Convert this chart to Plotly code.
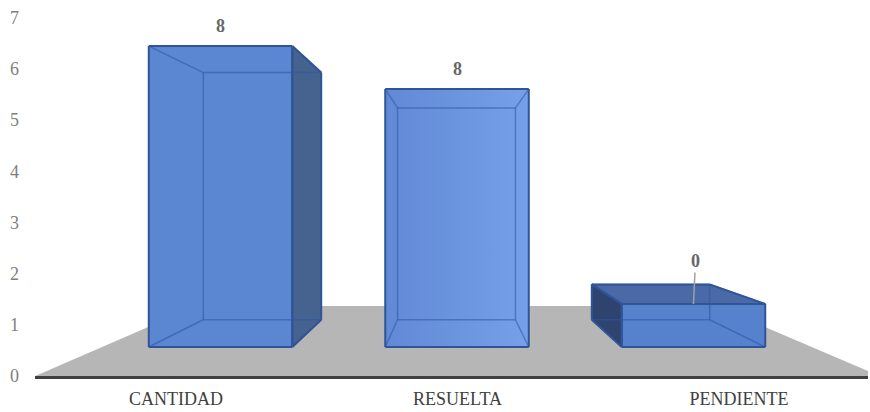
import plotly.graph_objects as go

# ---------------- data ----------------
categories = ["CANTIDAD", "RESUELTA", "PENDIENTE"]
values = [7, 6, 1]              # bar heights
data_labels = ["8", "8", "0"]   # data labels as printed on the chart
y_ticks = [0, 1, 2, 3, 4, 5, 6, 7]

# ---------------- perspective / style parameters ----------------
VX, VY = 0.988, 3.548          # vanishing point (data units)
S_FRONT, S_BACK = 0.84, 0.69   # depth scale of bar front / back planes
S_FLOOR_BACK = 0.615           # depth scale of floor back edge
BAR_W = 0.607                  # bar width in category units
X_RANGE = [-0.501, 2.458]
Y_RANGE = [0, 377 / 51.3]

FRONT_COLORS = ["#5A86D2", "#6A94DF", "#5581CD"]
RIGHT_COLOR = "#46628F"
LEFT_COLOR = "#2E436D"
TOP_COLOR = "#4A69A6"
EDGE_DARK = "#2F5597"
EDGE_INNER = "rgba(45,85,165,0.55)"
FLOOR_COLOR = "#B6B6B6"
LABEL_OFFSETS = [20, 20, 43]   # px above bar top


def proj(x, y, s):
    return (VX + s * (x - VX), VY + s * (y - VY))


fig = go.Figure()


def poly(pts, fill, gradient=None):
    xs = [p[0] for p in pts] + [pts[0][0]]
    ys = [p[1] for p in pts] + [pts[0][1]]
    kw = {}
    if gradient is not None:
        kw["fillgradient"] = gradient
    fig.add_trace(go.Scatter(x=xs, y=ys, mode="lines", fill="toself",
                             fillcolor=fill, line=dict(color=fill, width=0),
                             hoverinfo="skip", showlegend=False, **kw))


def edges(segs, color, width):
    xs, ys = [], []
    for a, b in segs:
        xs += [a[0], b[0], None]
        ys += [a[1], b[1], None]
    fig.add_trace(go.Scatter(x=xs, y=ys, mode="lines",
                             line=dict(color=color, width=width),
                             hoverinfo="skip", showlegend=False))


# floor
floor = [proj(-0.5, 0, 1), proj(2.5, 0, 1),
         proj(2.5, 0, S_FLOOR_BACK), proj(-0.5, 0, S_FLOOR_BACK)]
poly(floor, FLOOR_COLOR)

# bars
for i, (cat, v) in enumerate(zip(categories, values)):
    xl, xr = i - BAR_W / 2, i + BAR_W / 2
    P = {}
    for nx, xx in (("l", xl), ("r", xr)):
        for ny, yy in (("b", 0), ("t", v)):
            for nz, ss in (("f", S_FRONT), ("k", S_BACK)):
                P[nx + ny + nz] = proj(xx, yy, ss)
    front = [P["lbf"], P["rbf"], P["rtf"], P["ltf"]]
    grad = None
    if i == 1:
        grad = dict(type="horizontal",
                    colorscale=[[0, "#6189D6"], [1, "#76A0E8"]])
    poly(front, FRONT_COLORS[i], grad)
    outline = [(front[k], front[(k + 1) % 4]) for k in range(4)]
    if VX > xr:   # right face visible
        face = [P["rbf"], P["rbk"], P["rtk"], P["rtf"]]
        poly(face, RIGHT_COLOR)
        outline += [(face[k], face[(k + 1) % 4]) for k in range(4)]
    if VX < xl:   # left face visible
        face = [P["lbf"], P["lbk"], P["ltk"], P["ltf"]]
        poly(face, LEFT_COLOR)
        outline += [(face[k], face[(k + 1) % 4]) for k in range(4)]
    if VY > v:    # top face visible
        face = [P["ltf"], P["rtf"], P["rtk"], P["ltk"]]
        poly(face, TOP_COLOR)
        outline += [(face[k], face[(k + 1) % 4]) for k in range(4)]
    inner = [(P["lbk"], P["rbk"]), (P["rbk"], P["rtk"]), (P["rtk"], P["ltk"]),
             (P["ltk"], P["lbk"]), (P["lbf"], P["lbk"]), (P["rbf"], P["rbk"]),
             (P["rtf"], P["rtk"]), (P["ltf"], P["ltk"])]
    edges(inner, EDGE_INNER, 1.5)
    edges(outline, EDGE_DARK, 2)

    # data label
    lx, ly = proj(i, v, S_FRONT)
    off = LABEL_OFFSETS[i]
    if off > 30:
        fig.add_annotation(x=lx, y=ly, text=f"<b>{data_labels[i]}</b>",
                           showarrow=True, arrowhead=0, arrowwidth=1.5,
                           arrowcolor="#A0A0A0", ax=2, ay=-off,
                           font=dict(family="Liberation Serif", size=18, color="#666666"))
    else:
        fig.add_annotation(x=lx, y=ly, text=f"<b>{data_labels[i]}</b>",
                           showarrow=False, yshift=off,
                           font=dict(family="Liberation Serif", size=18, color="#666666"))

fig.update_layout(
    width=870, height=412,
    margin=dict(l=35, r=2, t=0, b=36),
    paper_bgcolor="white", plot_bgcolor="white",
    showlegend=False,
    font=dict(family="Liberation Serif"),
)
fig.update_xaxes(range=X_RANGE, tickmode="array", tickvals=list(range(len(categories))),
                 ticktext=categories, showgrid=False, zeroline=False,
                 showline=True, linecolor="#404040", linewidth=3,
                 ticks="", ticklabelstandoff=4, automargin=False,
                 tickfont=dict(family="Liberation Serif", size=18, color="#404040"))
fig.update_yaxes(range=Y_RANGE, tickmode="array", tickvals=y_ticks,
                 showgrid=False, zeroline=False, showline=False, ticks="",
                 ticklabelstandoff=15, automargin=False,
                 tickfont=dict(family="Liberation Serif", size=18, color="#808080"))

fig.write_html("out.html")
